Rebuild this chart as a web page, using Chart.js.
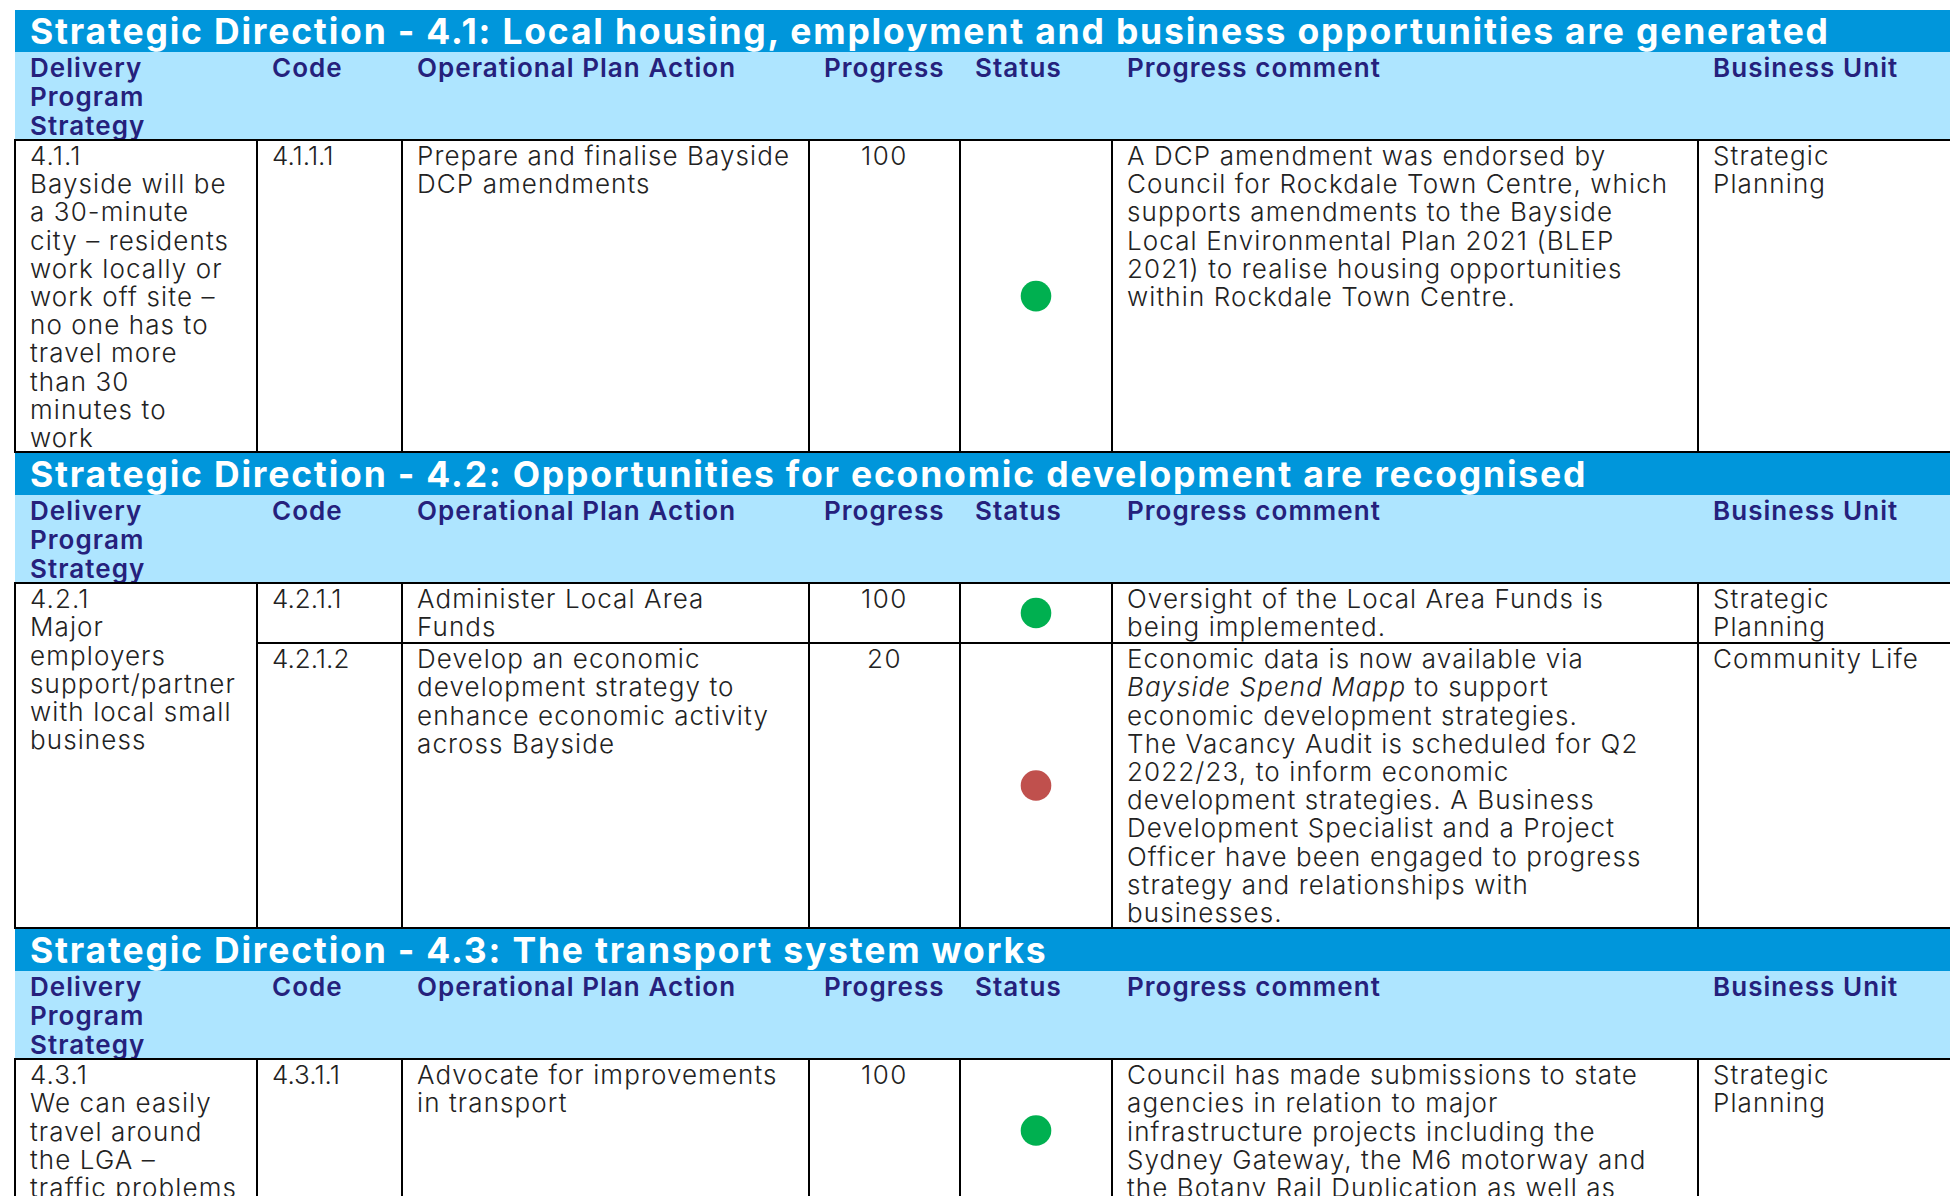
<!DOCTYPE html>
<html>
<head>
<meta charset="utf-8">
<title>Strategic Direction progress</title>
<script src="https://cdn.jsdelivr.net/npm/chart.js@4"></script>
<style>
html, body { margin: 0; padding: 0; background: #fff; overflow: hidden; width: 1950px; height: 1196px; }
body { font-family: "Inter", sans-serif; color: #222; }
table { position: absolute; left: 14px; top: 10px; width: 1936px; table-layout: fixed; border-collapse: collapse; }
td { padding: 0 14px; vertical-align: top; white-space: nowrap; overflow: hidden; box-sizing: border-box; }
col.c0 { width: 242px; } col.c1 { width: 145px; } col.c2 { width: 407px; } col.c3 { width: 151px; }
col.c4 { width: 152px; } col.c5 { width: 586px; } col.c6 { width: 253px; }
.shift { transform: translateY(0.5px); }
tr.band { height: 42px; }
tr.band td { background: #0096db; color: #fff; font-size: 35.5px; font-weight: 700; letter-spacing: 1.8px; line-height: 42px; padding: 0 15px; height: 42px; }
tr.band .shift { transform: translateY(1.2px); }
tr.head { height: 88px; }
tr.head td { background: #aee5ff; color: #25217c; font-size: 26px; font-weight: 600; letter-spacing: 1.05px; line-height: 28.8px; padding: 0 15px; border-bottom: 2px solid #000; }
tr.head .shift { transform: translateY(2px); }
tr.body td { font-size: 26px; font-weight: 300; letter-spacing: 1.1px; line-height: 28.2px; border: 2px solid #000; }
tr.body td.code { letter-spacing: 0; }
tr.body td.num { text-align: center; letter-spacing: 1.5px; }
tr.body td.status { position: relative; padding: 0; }
.dot { position: absolute; inset: 0; }
#row0 { height: 312px; } #row1 { height: 60px; } #row2 { height: 285px; } #row3 { height: 142px; }
</style>
</head>
<body>
<table id="report"></table>
<script>
const sectionTitles = [
    "Strategic Direction - 4.1: Local housing, employment and business opportunities are generated",
    "Strategic Direction - 4.2: Opportunities for economic development are recognised",
    "Strategic Direction - 4.3: The transport system works"
];
const columnLabels = [
    ["Delivery", "Program", "Strategy"],
    ["Code"],
    ["Operational Plan Action"],
    ["Progress"],
    ["Status"],
    ["Progress comment"],
    ["Business Unit"]
];

// one entry per section, the strategy cell spans all the rows of its section
const strategyLines = [
    ["4.1.1", "Bayside will be", "a 30-minute", "city – residents", "work locally or", "work off site –", "no one has to", "travel more", "than 30", "minutes to", "work"],
    ["4.2.1", "Major", "employers", "support/partner", "with local small", "business"],
    ["4.3.1", "We can easily", "travel around", "the LGA –", "traffic problems"]
];
const rowsPerSection = [1, 2, 1];

const rowCodes = ["4.1.1.1", "4.2.1.1", "4.2.1.2", "4.3.1.1"];
const actionLines = [
    ["Prepare and finalise Bayside", "DCP amendments"],
    ["Administer Local Area", "Funds"],
    ["Develop an economic", "development strategy to", "enhance economic activity", "across Bayside"],
    ["Advocate for improvements", "in transport"]
];
const progressValues = [100, 100, 20, 100];
const statusValues = ["green", "green", "red", "green"];
const commentLines = [
    ["A DCP amendment was endorsed by", "Council for Rockdale Town Centre, which", "supports amendments to the Bayside", "Local Environmental Plan 2021 (BLEP", "2021) to realise housing opportunities", "within Rockdale Town Centre."],
    ["Oversight of the Local Area Funds is", "being implemented."],
    ["Economic data is now available via", "<i>Bayside Spend Mapp</i> to support", "economic development strategies.", "The Vacancy Audit is scheduled for Q2", "2022/23, to inform economic", "development strategies. A Business", "Development Specialist and a Project", "Officer have been engaged to progress", "strategy and relationships with", "businesses."],
    ["Council has made submissions to state", "agencies in relation to major", "infrastructure projects including the", "Sydney Gateway, the M6 motorway and", "the Botany Rail Duplication as well as"]
];
const unitLines = [
    ["Strategic", "Planning"],
    ["Strategic", "Planning"],
    ["Community Life"],
    ["Strategic", "Planning"]
];

const statusColours = { green: "#00b050", red: "#c0504d" };

function textCell(lines, cls) {
    const attr = cls ? ` class="${cls}"` : "";
    return `<td${attr}><div class="shift">${lines.join("<br>")}</div></td>`;
}

function buildTable() {
    let html = "<colgroup>";
    columnLabels.forEach((c, i) => { html += `<col class="c${i}">`; });
    html += "</colgroup>";

    let rowIndex = 0;
    sectionTitles.forEach((title, s) => {
        html += '<tr class="band"><td colspan="7"><div class="shift">' + title + "</div></td></tr>";
        html += '<tr class="head">' + columnLabels.map(l => textCell(l)).join("") + "</tr>";

        for (let r = 0; r < rowsPerSection[s]; r++) {
            html += `<tr class="body" id="row${rowIndex}">`;
            if (r === 0) {
                html += `<td rowspan="${rowsPerSection[s]}"><div class="shift">${strategyLines[s].join("<br>")}</div></td>`;
            }
            html += textCell([rowCodes[rowIndex]], "code");
            html += textCell(actionLines[rowIndex]);
            html += textCell([progressValues[rowIndex]], "num");
            html += `<td class="status"><div class="dot"><canvas id="dot${rowIndex}"></canvas></div></td>`;
            html += textCell(commentLines[rowIndex]);
            html += textCell(unitLines[rowIndex]);
            html += "</tr>";
            rowIndex++;
        }
    });
    document.getElementById("report").innerHTML = html;
}

/* ================= CHART LOGIC ================= */

// each status cell is its own small chart: one category on each axis puts the point in the middle
function renderStatusDot(i) {
    const ctx = document.getElementById("dot" + i).getContext("2d");
    new Chart(ctx, {
        type: 'scatter',
        data: {
            datasets: [{
                data: [{ x: rowCodes[i], y: statusValues[i] }],
                backgroundColor: statusColours[statusValues[i]],
                borderWidth: 0,
                pointRadius: 15.3,
                pointHoverRadius: 15.3
            }]
        },
        options: {
            responsive: true,
            maintainAspectRatio: false,
            animation: false,
            layout: { padding: 0 },
            scales: {
                x: { type: 'category', labels: [rowCodes[i]], offset: true, display: false },
                y: { type: 'category', labels: [statusValues[i]], offset: true, display: false }
            },
            plugins: {
                legend: { display: false },
                tooltip: { enabled: false }
            }
        }
    });
}

buildTable();
rowCodes.forEach((code, i) => renderStatusDot(i));
</script>
</body>
</html>
